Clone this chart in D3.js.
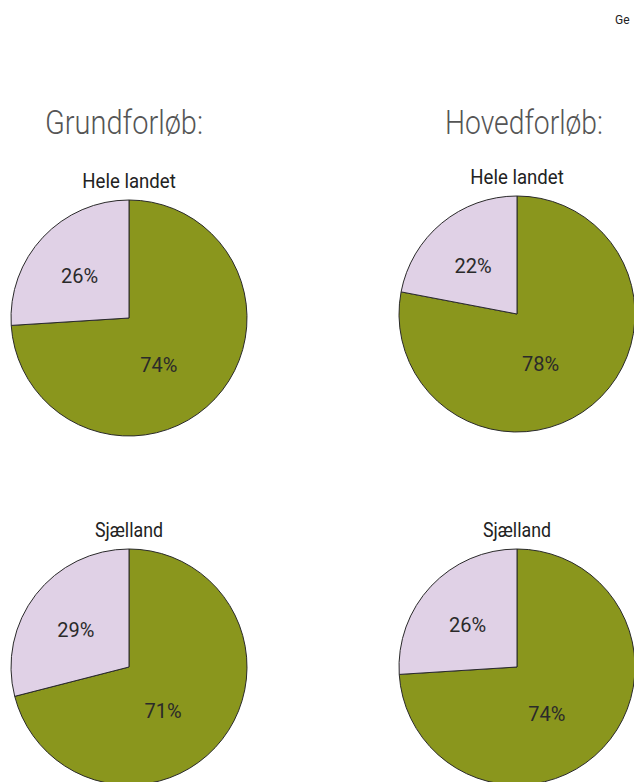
<!DOCTYPE html>
<html>
<head>
<meta charset="utf-8">
<script src="https://cdn.jsdelivr.net/npm/d3@7"></script>
<style>
  body { margin: 0; background: #fff; overflow: hidden; }
  svg { display: block; font-family: Roboto, sans-serif; }
</style>
</head>
<body>
<svg id="chart" width="634" height="782"></svg>
<script>
// data
var groups = ['Grundforløb:', 'Hovedforløb:'];
var regions = ['Hele landet', 'Sjælland'];
var categories = ['Ja', 'Nej'];
var grundValues = [[74, 26], [71, 29]];
var hovedValues = [[78, 22], [74, 26]];
var cornerNote = 'Ge';

var width = 634,
    height = 782,
    radius = 118;

var svg = d3.select('#chart');

var color = d3.scaleOrdinal()
    .domain(categories)
    .range(['#8a961d', '#e0d1e6']);

// column and row positions
var x = d3.scalePoint().domain(groups).range([129, 517]);
var y = d3.scalePoint().domain(regions).range([318, 667]);

var pie = d3.pie()
    .sort(null)
    .value(function(d) { return d.value; });

var arc = d3.arc().innerRadius(0).outerRadius(radius);

svg.append('text')
    .attr('x', 615)
    .attr('y', 24)
    .attr('font-size', 12)
    .attr('fill', '#222')
    .text(cornerNote);

groups.forEach(function(g, gi) {
    // light, slightly condensed heading
    svg.append('text')
        .attr('x', x(g) + (gi === 0 ? -5 : 7))
        .attr('y', 134)
        .attr('text-anchor', 'middle')
        .attr('font-size', 34)
        .attr('font-weight', 300)
        .attr('fill', '#555')
        .attr('textLength', 158)
        .attr('lengthAdjust', 'spacingAndGlyphs')
        .text(g);

    var values = gi === 0 ? grundValues : hovedValues;

    regions.forEach(function(r, ri) {
        var data = categories.map(function(c, i) { return { key: c, value: values[ri][i] }; });
        var cy = y(r) - (gi === 1 && ri === 0 ? 4 : 0);
        var cell = svg.append('g')
            .attr('transform', 'translate(' + x(g) + ',' + cy + ')');

        cell.append('text')
            .attr('y', -radius - 12)
            .attr('text-anchor', 'middle')
            .attr('font-size', 20)
            .attr('fill', '#222')
            .attr('textLength', r.length * 8.5)
            .attr('lengthAdjust', 'spacingAndGlyphs')
            .text(r);

        var slices = pie(data);

        cell.selectAll('path')
            .data(slices)
            .enter().append('path')
            .attr('d', arc)
            .attr('fill', function(d) { return color(d.data.key); })
            .attr('stroke', '#2a2a2a')
            .attr('stroke-width', 1);

        cell.selectAll('text.pct')
            .data(slices)
            .enter().append('text')
            .attr('class', 'pct')
            .attr('text-anchor', 'middle')
            .attr('dy', '0.35em')
            .attr('font-size', 20)
            .attr('fill', '#2a2a2a')
            .attr('transform', function(d, i) {
                var a = (d.startAngle + d.endAngle) / 2 + (i === 0 ? 0.25 : -0.05);
                var k = i === 0 ? 0.47 : 0.55;
                return 'translate(' + (Math.sin(a) * radius * k) + ',' + (-Math.cos(a) * radius * k) + ')';
            })
            .text(function(d) { return d.data.value + '%'; });
    });
});
</script>
</body>
</html>
